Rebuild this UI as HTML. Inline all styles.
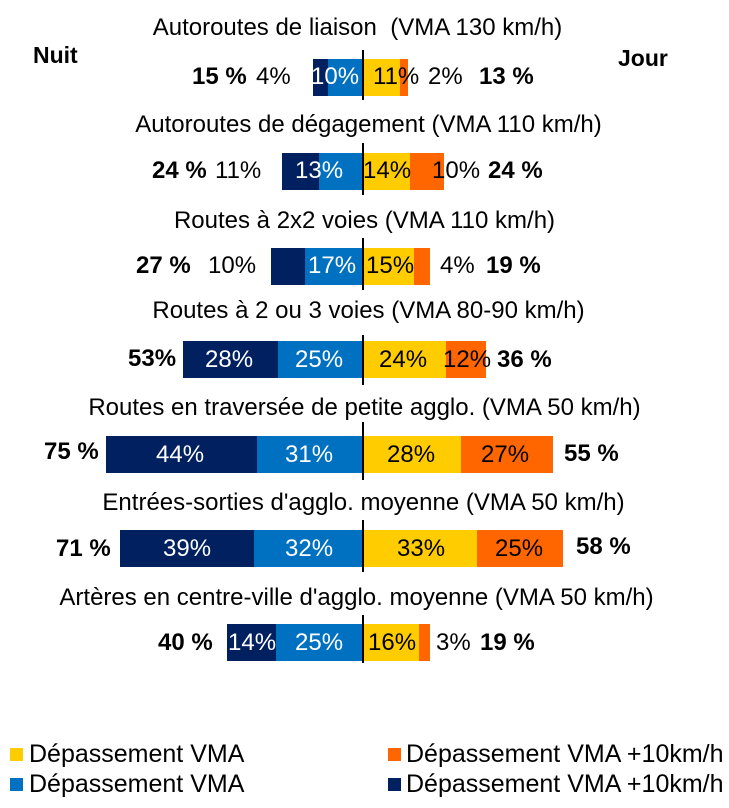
<!DOCTYPE html>
<html><head><meta charset="utf-8"><style>
body{margin:0;width:729px;height:808px;background:#fff;position:relative;overflow:hidden;font-family:"Liberation Sans",Arial,sans-serif;color:#000}
div{position:absolute}
.t{font-size:24px;white-space:nowrap;left:0;width:729px;text-align:center;line-height:28px}
.b{height:37px}
.l{font-size:24px;line-height:28px;white-space:nowrap}
.w{color:#fff}
.k{font-weight:bold}
.d{background:#002060}.u{background:#0070C0}.y{background:#FFCC00}.o{background:#FF6600}
.v{width:2px;background:#000;left:362px}
.sq{width:13px;height:13px}
.lg{font-size:25px}
</style></head><body>
<div class="l k" style="left:33px;top:41px;font-size:23px">Nuit</div>
<div class="l k" style="left:618px;top:44px;font-size:23px">Jour</div>

<div class="t" style="top:14px;left:-7px">Autoroutes de liaison&nbsp; (VMA 130 km/h)</div>
<div class="b d" style="left:313px;width:15px;top:59px"></div>
<div class="b u" style="left:328px;width:35px;top:59px"></div>
<div class="b y" style="left:363px;width:37px;top:59px"></div>
<div class="b o" style="left:400px;width:8px;top:59px"></div>
<div class="v" style="top:50px;height:50px"></div>
<div class="l k" style="left:192px;top:63px">15 %</div>
<div class="l" style="left:256px;top:63px">4%</div>
<div class="l w" style="left:311px;top:63px">10%</div>
<div class="l" style="left:373px;top:63px">11%</div>
<div class="l" style="left:428px;top:63px">2%</div>
<div class="l k" style="left:479px;top:63px">13 %</div>

<div class="t" style="top:111px;left:4px">Autoroutes de dégagement (VMA 110 km/h)</div>
<div class="b d" style="left:282px;width:37px;top:153px"></div>
<div class="b u" style="left:319px;width:44px;top:153px"></div>
<div class="b y" style="left:363px;width:47px;top:153px"></div>
<div class="b o" style="left:410px;width:34px;top:153px"></div>
<div class="v" style="top:143px;height:52px"></div>
<div class="l k" style="left:152px;top:157px">24 %</div>
<div class="l" style="left:215px;top:157px">11%</div>
<div class="l w" style="left:295px;top:157px">13%</div>
<div class="l" style="left:363px;top:157px">14%</div>
<div class="l" style="left:432px;top:157px">10%</div>
<div class="l k" style="left:488px;top:157px">24 %</div>

<div class="t" style="top:207px;left:0px">Routes à 2x2 voies (VMA 110 km/h)</div>
<div class="b d" style="left:271px;width:34px;top:248px"></div>
<div class="b u" style="left:305px;width:58px;top:248px"></div>
<div class="b y" style="left:363px;width:51px;top:248px"></div>
<div class="b o" style="left:414px;width:16px;top:248px"></div>
<div class="v" style="top:238px;height:52px"></div>
<div class="l k" style="left:136px;top:252px">27 %</div>
<div class="l" style="left:208px;top:252px">10%</div>
<div class="l w" style="left:308px;top:252px">17%</div>
<div class="l" style="left:366px;top:252px">15%</div>
<div class="l" style="left:440px;top:252px">4%</div>
<div class="l k" style="left:486px;top:252px">19 %</div>

<div class="t" style="top:297px;left:4px">Routes à 2 ou 3 voies (VMA 80-90 km/h)</div>
<div class="b d" style="left:183px;width:95px;top:341px"></div>
<div class="b u" style="left:278px;width:85px;top:341px"></div>
<div class="b y" style="left:363px;width:83px;top:341px"></div>
<div class="b o" style="left:446px;width:40px;top:341px"></div>
<div class="v" style="top:335px;height:50px"></div>
<div class="l k" style="left:128px;top:345px">53%</div>
<div class="l w" style="left:205px;top:346px">28%</div>
<div class="l w" style="left:295px;top:346px">25%</div>
<div class="l" style="left:379px;top:346px">24%</div>
<div class="l" style="left:443px;top:346px">12%</div>
<div class="l k" style="left:497px;top:346px">36 %</div>

<div class="t" style="top:394px;left:0px">Routes en traversée de petite agglo. (VMA 50 km/h)</div>
<div class="b d" style="left:106px;width:151px;top:436px"></div>
<div class="b u" style="left:257px;width:106px;top:436px"></div>
<div class="b y" style="left:363px;width:98px;top:436px"></div>
<div class="b o" style="left:461px;width:92px;top:436px"></div>
<div class="v" style="top:422px;height:58px"></div>
<div class="l k" style="left:44px;top:438px">75 %</div>
<div class="l w" style="left:156px;top:441px">44%</div>
<div class="l w" style="left:285px;top:441px">31%</div>
<div class="l" style="left:387px;top:441px">28%</div>
<div class="l" style="left:481px;top:441px">27%</div>
<div class="l k" style="left:564px;top:440px">55 %</div>

<div class="t" style="top:489px;left:-1px">Entrées-sorties d'agglo. moyenne (VMA 50 km/h)</div>
<div class="b d" style="left:120px;width:134px;top:530px"></div>
<div class="b u" style="left:254px;width:109px;top:530px"></div>
<div class="b y" style="left:363px;width:114px;top:530px"></div>
<div class="b o" style="left:477px;width:86px;top:530px"></div>
<div class="v" style="top:520px;height:52px"></div>
<div class="l k" style="left:56px;top:535px">71 %</div>
<div class="l w" style="left:163px;top:535px">39%</div>
<div class="l w" style="left:285px;top:535px">32%</div>
<div class="l" style="left:397px;top:535px">33%</div>
<div class="l" style="left:495px;top:535px">25%</div>
<div class="l k" style="left:576px;top:533px">58 %</div>

<div class="t" style="top:584px;left:-8px">Artères en centre-ville d'agglo. moyenne (VMA 50 km/h)</div>
<div class="b d" style="left:227px;width:49px;top:624px"></div>
<div class="b u" style="left:276px;width:87px;top:624px"></div>
<div class="b y" style="left:363px;width:56px;top:624px"></div>
<div class="b o" style="left:419px;width:11px;top:624px"></div>
<div class="v" style="top:615px;height:48px"></div>
<div class="l k" style="left:158px;top:629px">40 %</div>
<div class="l w" style="left:228px;top:629px">14%</div>
<div class="l w" style="left:295px;top:629px">25%</div>
<div class="l" style="left:368px;top:629px">16%</div>
<div class="l" style="left:436px;top:629px">3%</div>
<div class="l k" style="left:480px;top:629px">19 %</div>

<div class="sq y" style="left:10px;top:748px"></div>
<div class="l lg" style="left:29px;top:740px">Dépassement VMA</div>
<div class="sq u" style="left:10px;top:778px"></div>
<div class="l lg" style="left:29px;top:770px">Dépassement VMA</div>
<div class="sq o" style="left:388px;top:748px"></div>
<div class="l lg" style="left:406px;top:740px">Dépassement VMA +10km/h</div>
<div class="sq d" style="left:388px;top:778px"></div>
<div class="l lg" style="left:406px;top:770px">Dépassement VMA +10km/h</div>
</body></html>
